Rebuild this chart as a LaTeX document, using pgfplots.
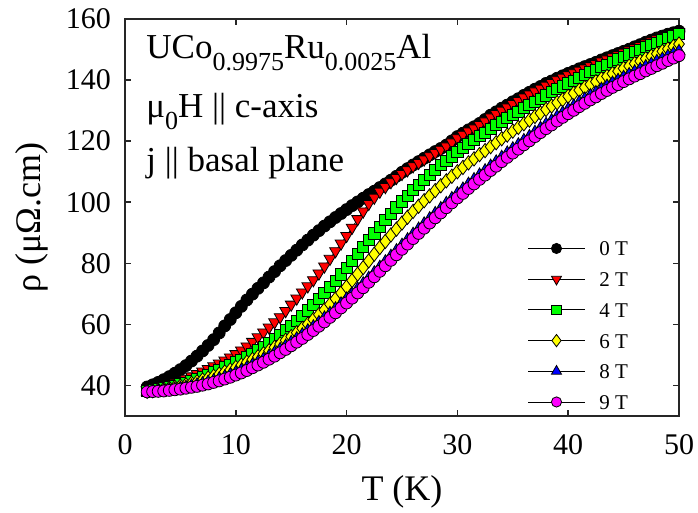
\documentclass[border=0pt]{standalone}
\usepackage{fontspec}
\setmainfont{Liberation Serif}
\usepackage{pgfplots}
\usepackage{pgfplotstable}
\pgfplotsset{compat=1.18}

\definecolor{c0}{RGB}{0,0,0}
\definecolor{c2}{RGB}{255,0,0}
\definecolor{c4}{RGB}{0,255,0}
\definecolor{c6}{RGB}{255,255,0}
\definecolor{c8}{RGB}{0,0,255}
\definecolor{c9}{RGB}{255,0,255}

\newcommand{\sub}[1]{\raisebox{-6bp}{\fontsize{13bp}{15bp}\selectfont #1}}

% T (K) and rho (muOhm cm) for mu0H = 0, 2, 4, 6, 8, 9 T
\pgfplotstableread{
T    r0    r2    r4    r6    r8    r9
2.0  39.5  38.5  38.3  38.1  38.0  37.9
2.5  40.2  38.9  38.5  38.3  38.1  38.0
3.0  41.0  39.3  38.8  38.5  38.3  38.1
3.5  41.9  39.8  39.1  38.8  38.5  38.2
4.0  42.9  40.3  39.5  39.1  38.7  38.4
4.5  44.0  40.9  39.9  39.4  38.9  38.6
5.0  45.2  41.5  40.4  39.8  39.2  38.8
5.5  46.5  42.2  40.9  40.2  39.5  39.1
6.0  48.0  43.0  41.5  40.7  39.9  39.4
6.5  49.6  43.8  42.1  41.2  40.3  39.7
7.0  51.3  44.6  42.8  41.8  40.7  40.1
7.5  53.1  45.4  43.5  42.4  41.2  40.5
8.0  55.0  46.3  44.3  43.0  41.7  41.0
8.5  57.2  47.2  45.1  43.7  42.3  41.5
9.0  59.5  48.2  45.9  44.4  42.9  42.1
9.5  61.6  49.2  46.7  45.1  43.6  42.7
10.0 63.8  50.3  47.6  45.9  44.3  43.4
10.5 65.9  51.5  48.5  46.7  45.1  44.1
11.0 68.0  52.8  49.4  47.6  45.9  44.9
11.5 69.9  54.3  50.4  48.5  46.8  45.8
12.0 71.8  55.8  51.5  49.4  47.7  46.7
12.5 73.6  57.4  52.7  50.4  48.7  47.6
13.0 75.5  59.0  53.9  51.4  49.7  48.6
13.5 77.3  60.7  55.2  52.5  50.8  49.6
14.0 79.2  62.4  56.6  53.6  51.9  50.7
14.5 80.9  64.4  58.1  54.8  53.0  51.8
15.0 82.6  66.5  59.6  56.0  54.2  53.0
15.5 84.3  68.5  61.2  57.3  55.4  54.2
16.0 86.0  70.5  62.9  58.7  56.7  55.4
16.5 87.6  72.5  64.6  60.1  58.0  56.7
17.0 89.2  74.5  66.4  61.6  59.3  58.0
17.5 90.7  76.7  68.3  63.2  60.7  59.4
18.0 92.2  79.0  70.2  64.8  62.2  60.8
18.5 93.6  81.5  72.2  66.6  63.7  62.3
19.0 95.0  84.0  74.3  68.4  65.2  63.8
19.5 96.3  86.5  76.4  70.3  66.8  65.4
20.0 97.6  89.0  78.6  72.3  68.4  67.0
20.5 98.9  91.7  80.8  74.4  70.0  68.6
21.0 100.1 94.5  83.0  76.5  71.7  70.3
21.5 101.3 97.0  85.3  78.6  73.4  72.0
22.0 102.5 99.5  87.6  80.8  75.2  73.8
22.5 103.6 101.5 89.8  83.0  77.0  75.6
23.0 104.8 103.5 92.0  85.2  78.8  77.4
23.5 106.0 105.0 94.2  87.2  80.6  79.2
24.0 107.2 106.6 96.3  89.3  82.4  81.0
24.5 108.5 108.0 98.3  91.2  84.2  82.8
25.0 109.8 109.3 100.3 93.2  86.0  84.6
25.5 111.0 110.5 102.1 95.1  87.8  86.3
26.0 112.2 111.8 104.0 97.0  89.6  88.1
26.5 113.3 112.9 105.7 98.7  91.3  89.8
27.0 114.4 114.0 107.4 100.5 93.0  91.5
27.5 115.5 115.1 109.0 102.1 94.7  93.2
28.0 116.6 116.2 110.6 103.8 96.4  94.9
28.5 117.6 117.2 112.1 105.4 98.0  96.5
29.0 118.7 118.3 113.6 107.0 99.7  98.2
29.5 120.1 119.6 115.0 108.5 101.3 99.8
30.0 121.5 121.0 116.4 110.0 102.9 101.4
30.5 122.6 122.1 117.7 111.4 104.4 102.9
31.0 123.7 123.2 119.1 112.9 106.0 104.5
31.5 124.7 124.2 120.3 114.2 107.5 106.0
32.0 125.8 125.3 121.6 115.6 109.0 107.5
32.5 127.1 126.5 122.8 116.9 110.4 108.9
33.0 128.5 127.8 124.0 118.2 111.9 110.4
33.5 129.6 128.9 125.2 119.5 113.3 111.8
34.0 130.8 130.0 126.4 120.8 114.8 113.3
34.5 131.8 131.1 127.5 122.0 116.2 114.7
35.0 132.9 132.2 128.6 123.3 117.6 116.1
35.5 133.9 133.2 129.7 124.5 118.9 117.4
36.0 135.0 134.3 130.8 125.7 120.3 118.8
36.5 136.0 135.3 131.8 126.9 121.6 120.1
37.0 137.0 136.3 132.9 128.1 123.0 121.5
37.5 137.9 137.2 133.9 129.2 124.3 122.8
38.0 138.9 138.2 135.0 130.4 125.6 124.1
38.5 139.7 139.1 136.0 131.5 126.8 125.3
39.0 140.6 140.0 137.0 132.6 128.1 126.6
39.5 141.4 140.8 137.9 133.6 129.3 127.8
40.0 142.2 141.6 138.9 134.7 130.5 129.0
40.5 142.9 142.3 139.8 135.7 131.6 130.1
41.0 143.7 143.1 140.8 136.7 132.8 131.3
41.5 144.4 143.8 141.7 137.6 133.9 132.4
42.0 145.1 144.6 142.6 138.6 135.0 133.5
42.5 145.8 145.3 143.4 139.5 136.0 134.5
43.0 146.6 146.1 144.3 140.4 137.1 135.6
43.5 147.3 146.8 145.1 141.2 138.1 136.6
44.0 148.0 147.5 146.0 142.1 139.1 137.6
44.5 148.7 148.2 146.8 142.9 140.0 138.5
45.0 149.4 149.0 147.6 143.8 141.0 139.5
45.5 150.1 149.7 148.4 144.6 141.9 140.4
46.0 150.9 150.5 149.2 145.4 142.8 141.3
46.5 151.6 151.2 150.0 146.2 143.6 142.1
47.0 152.4 152.0 150.8 147.0 144.5 143.0
47.5 153.1 152.7 151.5 147.8 145.3 143.8
48.0 153.8 153.4 152.3 148.6 146.2 144.7
48.5 154.4 154.0 153.0 149.4 147.0 145.5
49.0 155.0 154.6 153.7 150.2 147.9 146.4
49.5 155.5 155.1 154.3 151.0 148.7 147.2
50.0 156.0 155.6 155.0 151.8 149.5 148.0
}\rho

\begin{document}
\begin{tikzpicture}
  \begin{axis}[
      scale only axis,
      width=277bp, height=198.5bp,
      xmin=0, xmax=50, ymin=30, ymax=160,
      xtick={0,10,...,50},
      ytick={40,60,...,160},
      tick align=inside,
      major tick length=3bp,
      axis line style={black!85, line width=1bp},
      tick style={black!85, line width=0.8bp},
      /pgf/number format/assume math mode=true,
      tick label style={font=\fontsize{15bp}{18bp}\selectfont},
      xticklabel style={yshift=-6bp},
      yticklabel style={xshift=-3.5bp},
      label style={font=\fontsize{18bp}{21bp}\selectfont},
      xlabel={T (K)},
      ylabel={ρ (μΩ.cm)},
      xlabel style={at={(axis description cs:0.5,-0.214)}, anchor=base},
      ylabel style={at={(axis description cs:-0.168,0.5)}, anchor=center},
      clip=false,
      every axis plot/.append style={black, line width=0.4bp},
      legend image code/.code={
          \draw[#1, every mark/.append style={scale=0.85},
            mark repeat=2, mark phase=2]
          plot coordinates {(0bp,0bp) (14.25bp,0bp) (28.5bp,0bp)};
        },
      legend style={
          at={(axis cs:36.3,88.1)},
          anchor=north west,
          draw=none, fill=none,
          inner sep=0pt,
          row sep=5.85bp,
          font=\fontsize{10.5bp}{12bp}\selectfont,
          nodes={inner sep=1bp, text height=7.5bp, text depth=0bp},
          /tikz/every odd column/.append style={column sep=6bp},
        },
      legend cell align=left,
    ]

    \addplot[mark=*, mark size=3bp,
      mark options={fill=c0, draw=black, line width=0.4bp}]
    table[x=T, y=r0] {\rho};
    \addlegendentry{0 T}

    \addplot[mark=triangle*, mark size=3.4bp,
      mark options={fill=c2, draw=black, line width=0.4bp, rotate=180}]
    table[x=T, y=r2] {\rho};
    \addlegendentry{2 T}

    \addplot[mark=square*, mark size=2.8bp,
      mark options={fill=c4, draw=black, line width=0.4bp}]
    table[x=T, y=r4] {\rho};
    \addlegendentry{4 T}

    \addplot[mark=diamond*, mark size=3.6bp,
      mark options={fill=c6, draw=black, line width=0.4bp}]
    table[x=T, y=r6] {\rho};
    \addlegendentry{6 T}

    \addplot[mark=triangle*, mark size=3.4bp,
      mark options={fill=c8, draw=black, line width=0.4bp}]
    table[x=T, y=r8] {\rho};
    \addlegendentry{8 T}

    \addplot[mark=*, mark size=3bp,
      mark options={fill=c9, draw=black, line width=0.4bp}]
    table[x=T, y=r9] {\rho};
    \addlegendentry{9 T}

    \node[anchor=base west, font=\fontsize{17.5bp}{20bp}\selectfont]
    at (axis cs:1.3,147.2) {UCo\sub{0.9975}Ru\sub{0.0025}Al};
    \node[anchor=base west, font=\fontsize{17.5bp}{20bp}\selectfont]
    at (axis cs:1.3,127.9) {μ\sub{0}H || c-axis};
    \node[anchor=base west, font=\fontsize{17.5bp}{20bp}\selectfont]
    at (axis cs:1.3,110.2) {j || basal plane};
  \end{axis}

  \pgfresetboundingbox
  \path[use as bounding box]
  ([shift={(-62.5bp,-48.5bp)}]current axis.south west) rectangle
  ([shift={(9.5bp,9.5bp)}]current axis.north east);
\end{tikzpicture}
\end{document}
